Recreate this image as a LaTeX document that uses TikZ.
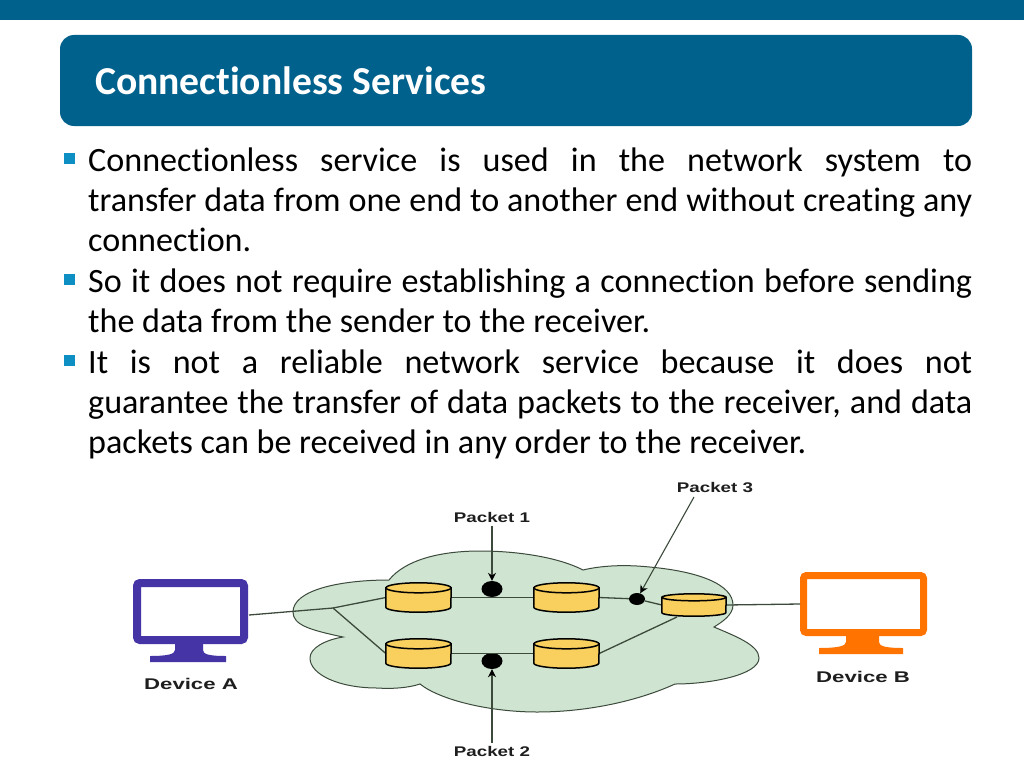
\documentclass[tikz,border=0pt]{standalone}
\usepackage{fontspec}
\usepackage{xcolor}
\setmainfont[Ligatures=NoCommon]{Carlito}
\newfontfamily\labfont{Liberation Sans}
\usetikzlibrary{shapes.geometric,arrows.meta}
\definecolor{band}{HTML}{00618C}
\definecolor{bullet}{HTML}{0E8FC4}
\definecolor{cloudfill}{HTML}{CFE4D1}
\definecolor{cloudline}{HTML}{3C4A3C}
\definecolor{cyl}{HTML}{F9CF5E}
\definecolor{purp}{HTML}{4434A6}
\definecolor{orng}{HTML}{FF7300}
\definecolor{labc}{HTML}{1E1E1E}
\newcommand{\devlab}[1]{\scalebox{1.43}[1]{\labfont\fontsize{15.5pt}{18pt}\selectfont\bfseries #1}}
\newcommand{\pktlab}[1]{\scalebox{1.34}[1]{\labfont\fontsize{14pt}{18pt}\selectfont\bfseries #1}}
\newcommand{\drum}[3]{%
  \path[fill=cyl,draw=black,line width=1.5pt] ([yshift=-#3pt]#1.north west) -- ([yshift=#3pt]#1.south west)
    arc[start angle=180,end angle=360,x radius=#2pt,y radius=#3pt] -- ([yshift=-#3pt]#1.north east) -- cycle;
  \path[fill=cyl,draw=black,line width=1.5pt] ([yshift=-#3pt]#1.north) ellipse[x radius=#2pt,y radius=#3pt];
}
\tikzset{
  x=1pt,y=-1pt,
  para/.style={anchor=north west,inner sep=0pt,text width=884pt,align=justify,font=\fontsize{34.1pt}{40.25pt}\selectfont,text=black},
  bul/.style={fill=bullet,draw=none,minimum size=11pt,inner sep=0pt},
  wire/.style={draw=cloudline,line width=1.3pt},
  pointer/.style={draw=cloudline,line width=1.1pt,-{Stealth[length=8pt,width=8pt,color=black]}},
  store/.style={rectangle,minimum width=65pt,minimum height=29pt,inner sep=0pt},
  pkt/.style={ellipse,fill=black,draw=none,inner sep=0pt},
  lbl/.style={inner sep=0pt,text=labc},
  screen/.style={rectangle,fill=white,inner sep=0pt,rounded corners=3pt},
}
\begin{document}
\begin{tikzpicture}
\useasboundingbox (0,0) rectangle (1024,768);
\fill[white] (0,0) rectangle (1024,768);
\fill[band] (0,0) rectangle (1024,20);
\node[fill=band,rounded corners=14pt,minimum width=912pt,minimum height=91pt,inner sep=0pt] (titlebox) at (516,80.5) {};
\node[anchor=west,inner sep=0pt,text=white,font=\fontsize{39.6pt}{44pt}\selectfont\bfseries] (title) at (95,81) {Connectionless Services};
\node[bul] (b1) at (69.5,158.5) {};
\node[bul] (b2) at (69.5,279.5) {};
\node[bul] (b3) at (69.5,360) {};
\node[para] (p1) at (88,147.5) {Connectionless service is used in the network system to\linebreak transfer data from one end to another end without creating any\linebreak connection.};
\node[para] (p2) at (88,268.5) {So it does not require establishing a connection before sending\linebreak the data from the sender to the receiver.};
\node[para] (p3) at (88,349.5) {It is not a reliable network service because it does not\linebreak guarantee the transfer of data packets to the receiver, and data\linebreak packets can be received in any order to the receiver.};
% cloud
\path[fill=cloudfill,draw=cloudline,line width=1pt] (389,580)
 .. controls (405,560) and (440,551) .. (480,551)
 .. controls (520,551) and (560,558) .. (583,570)
 .. controls (600,566) and (618,565) .. (637,566)
 .. controls (700,570) and (733,585) .. (733,605)
 .. controls (733,615) and (722,622) .. (714,627)
 .. controls (735,636) and (759,645) .. (759,658)
 .. controls (759,675) and (710,684) .. (675,684)
 .. controls (640,700) and (590,712) .. (537,712)
 .. controls (490,712) and (440,700) .. (420,684)
 .. controls (408,688) and (392,689) .. (377,688)
 .. controls (340,688) and (310,675) .. (310,658)
 .. controls (310,648) and (325,640) .. (343,637)
 .. controls (310,630) and (293,625) .. (293,612)
 .. controls (293,590) and (340,580) .. (389,580) -- cycle;
% monitors
\fill[purp] (175,640) -- (203,640) -- (203,650) .. controls (203,654) and (208,656) .. (226,656) -- (226,662) -- (150,662) -- (150,656) .. controls (168,656) and (175,654) .. (175,650) -- cycle;
\fill[orng] (846,632) -- (879,632) -- (879,642) .. controls (879,646) and (885,648) .. (903,648) -- (903,654) -- (819,654) -- (819,648) .. controls (838,648) and (846,646) .. (846,642) -- cycle;
\node[screen,draw=purp,line width=8pt,minimum width=107pt,minimum height=57pt] (devA) at (190.5,611.5) {};
\node[screen,draw=orng,line width=7pt,minimum width=120pt,minimum height=57pt] (devB) at (863.5,604) {};
% stores and packets
\coordinate (aOut) at (249,615);
\coordinate (junc) at (333,608);
\coordinate (c5in) at (677,617);
\node[store] (c1) at (418.5,597.5) {};
\node[store] (c2) at (418.5,653.5) {};
\node[store] (c3) at (566.5,597.5) {};
\node[store] (c4) at (566.5,653.5) {};
\node[store,minimum width=64pt,minimum height=22pt] (c5) at (694,605) {};
\node[pkt,minimum width=21pt,minimum height=16pt] (d1) at (492,589) {};
\node[pkt,minimum width=21pt,minimum height=16pt] (d2) at (492,661) {};
\node[pkt,minimum width=16pt,minimum height=12pt] (d3) at (637,599) {};
\draw[wire] (aOut) -- (junc) -- (c1.west);
\draw[wire] (junc) -- (c2.west);
\draw[wire] (c1.east) -- (c3.west);
\draw[wire] (c2.east) -- (c4.west);
\draw[wire] (c4.east) -- (c5in);
\draw[wire] (c3.east) -- (d3) -- (c5.west);
\draw[wire] (c5.east) -- (devB.west);
\drum{c1}{32.5}{5}
\drum{c2}{32.5}{5}
\drum{c3}{32.5}{5}
\drum{c4}{32.5}{5}
\drum{c5}{32}{3.5}
% labels
\node[lbl] (la) at (191,684) {\devlab{Device A}};
\node[lbl] (lb) at (863,677) {\devlab{Device B}};
\node[lbl] (l1) at (492,517.5) {\pktlab{Packet 1}};
\node[lbl] (l2) at (492,751) {\pktlab{Packet 2}};
\node[lbl] (l3) at (715,487.5) {\pktlab{Packet 3}};
\coordinate (l3foot) at (694,497);
\draw[pointer] ([yshift=-3pt]l1.south) -- (d1.north);
\draw[pointer] ([yshift=3pt]l2.north) -- (d2.south);
\draw[pointer] (l3foot) -- (d3);
\end{tikzpicture}
\end{document}
